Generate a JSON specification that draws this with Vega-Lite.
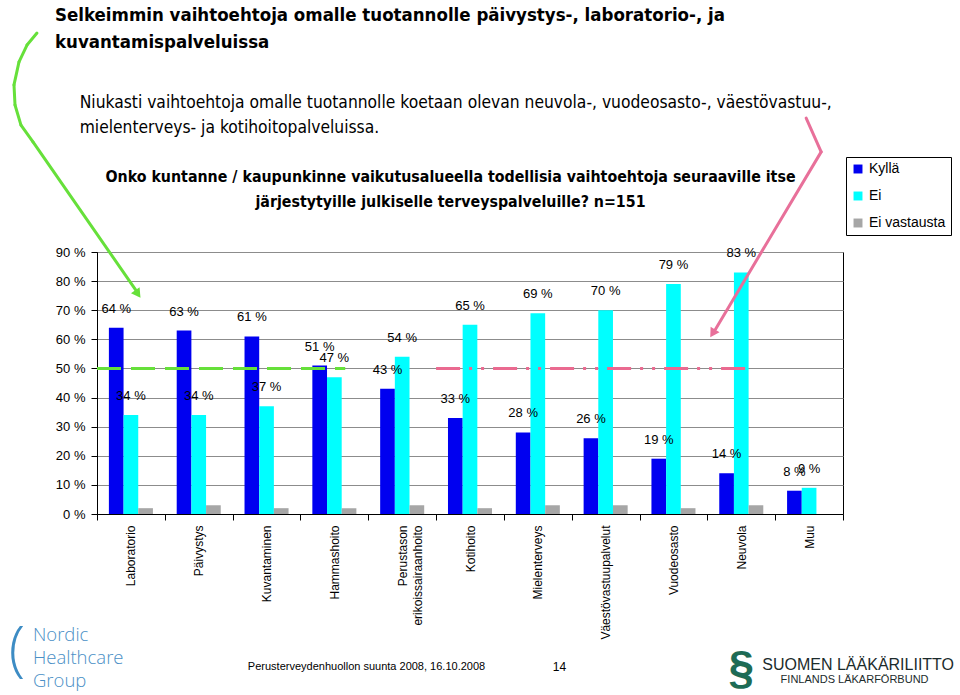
{
  "$schema": "https://vega.github.io/schema/vega-lite/v6.json",
  "width": 746,
  "height": 262,
  "autosize": {"type": "none"},
  "padding": {"left": 97, "top": 252, "right": 117, "bottom": 181},
  "background": "white",
  "config": {
    "view": {"stroke": "#000000", "strokeWidth": 1},
    "font": "Liberation Sans",
    "axis": {"labelFont": "Liberation Sans", "titleFont": "Liberation Sans"},
    "legend": {"labelFont": "Liberation Sans"},
    "rule": {"strokeCap": "round"}
  },
  "title": {
    "text": ["Selkeimmin vaihtoehtoja omalle tuotannolle päivystys-, laboratorio-, ja", "kuvantamispalveluissa"],
    "subtitle": ["\u200b\u00a0\u00a0\u00a0\u00a0\u00a0Niukasti vaihtoehtoja omalle tuotannolle koetaan olevan neuvola-, vuodeosasto-, väestövastuu-,", "\u200b\u00a0\u00a0\u00a0\u00a0\u00a0mielenterveys- ja kotihoitopalveluissa."],
    "anchor": "start",
    "frame": "group",
    "dx": -42,
    "offset": -105.2,
    "font": "DejaVu Sans Condensed, Liberation Sans",
    "fontSize": 18.5,
    "fontWeight": "bold",
    "lineHeight": 27,
    "color": "#000000",
    "subtitleFont": "DejaVu Sans Condensed, Liberation Sans",
    "subtitleFontSize": 17.3,
    "subtitleLineHeight": 25,
    "subtitlePadding": 43,
    "subtitleColor": "#000000"
  },
  "datasets": {
    "bars": [
      {"cat": "Laboratorio", "group": "Kyllä", "value": 64, "label": "64 %"},
      {"cat": "Laboratorio", "group": "Ei", "value": 34, "label": "34 %"},
      {"cat": "Laboratorio", "group": "Ei vastausta", "value": 2, "label": "2 %"},
      {"cat": "Päivystys", "group": "Kyllä", "value": 63, "label": "63 %"},
      {"cat": "Päivystys", "group": "Ei", "value": 34, "label": "34 %"},
      {"cat": "Päivystys", "group": "Ei vastausta", "value": 3, "label": "3 %"},
      {"cat": "Kuvantaminen", "group": "Kyllä", "value": 61, "label": "61 %"},
      {"cat": "Kuvantaminen", "group": "Ei", "value": 37, "label": "37 %"},
      {"cat": "Kuvantaminen", "group": "Ei vastausta", "value": 2, "label": "2 %"},
      {"cat": "Hammashoito", "group": "Kyllä", "value": 51, "label": "51 %"},
      {"cat": "Hammashoito", "group": "Ei", "value": 47, "label": "47 %"},
      {"cat": "Hammashoito", "group": "Ei vastausta", "value": 2, "label": "2 %"},
      {"cat": "Perustason erikoissairaanhoito", "group": "Kyllä", "value": 43, "label": "43 %"},
      {"cat": "Perustason erikoissairaanhoito", "group": "Ei", "value": 54, "label": "54 %"},
      {"cat": "Perustason erikoissairaanhoito", "group": "Ei vastausta", "value": 3, "label": "3 %"},
      {"cat": "Kotihoito", "group": "Kyllä", "value": 33, "label": "33 %"},
      {"cat": "Kotihoito", "group": "Ei", "value": 65, "label": "65 %"},
      {"cat": "Kotihoito", "group": "Ei vastausta", "value": 2, "label": "2 %"},
      {"cat": "Mielenterveys", "group": "Kyllä", "value": 28, "label": "28 %"},
      {"cat": "Mielenterveys", "group": "Ei", "value": 69, "label": "69 %"},
      {"cat": "Mielenterveys", "group": "Ei vastausta", "value": 3, "label": "3 %"},
      {"cat": "Väestövastuupalvelut", "group": "Kyllä", "value": 26, "label": "26 %"},
      {"cat": "Väestövastuupalvelut", "group": "Ei", "value": 70, "label": "70 %"},
      {"cat": "Väestövastuupalvelut", "group": "Ei vastausta", "value": 3, "label": "3 %"},
      {"cat": "Vuodeosasto", "group": "Kyllä", "value": 19, "label": "19 %"},
      {"cat": "Vuodeosasto", "group": "Ei", "value": 79, "label": "79 %"},
      {"cat": "Vuodeosasto", "group": "Ei vastausta", "value": 2, "label": "2 %"},
      {"cat": "Neuvola", "group": "Kyllä", "value": 14, "label": "14 %"},
      {"cat": "Neuvola", "group": "Ei", "value": 83, "label": "83 %"},
      {"cat": "Neuvola", "group": "Ei vastausta", "value": 3, "label": "3 %"},
      {"cat": "Muu", "group": "Kyllä", "value": 8, "label": "8 %"},
      {"cat": "Muu", "group": "Ei", "value": 9, "label": "9 %"}
    ]
  },
  "data": {"name": "bars"},
  "resolve": {"axis": {"x": "independent", "y": "independent"}},
  "layer": [
    {
      "mark": {"type": "bar"},
      "encoding": {
        "x": {
          "field": "cat",
          "type": "nominal",
          "sort": ["Laboratorio", "Päivystys", "Kuvantaminen", "Hammashoito", "Perustason erikoissairaanhoito", "Kotihoito", "Mielenterveys", "Väestövastuupalvelut", "Vuodeosasto", "Neuvola", "Muu"],
          "scale": {"paddingInner": 0, "paddingOuter": 0},
          "axis": {
            "orient": "bottom",
            "labelAngle": -90,
            "labelAlign": "right",
            "labelBaseline": "middle",
            "labelPadding": 5,
            "labelFontSize": 12,
            "labelColor": "#000000",
            "labelLineHeight": 15,
            "labelExpr": "datum.value == 'Perustason erikoissairaanhoito' ? ['Perustason', 'erikoissairaanhoito'] : datum.value",
            "tickBand": "extent",
            "tickSize": 6,
            "tickColor": "#000000",
            "domainColor": "#000000",
            "grid": false,
            "title": "Perusterveydenhuollon suunta 2008, 16.10.2008",
            "titleFontSize": 11,
            "titleFontWeight": "normal",
            "titleColor": "#000000",
            "titleX": 269,
            "titleY": 152,
            "titleAlign": "center",
            "titleBaseline": "middle"
          }
        },
        "xOffset": {
          "field": "group",
          "type": "nominal",
          "sort": ["Kyllä", "Ei", "Ei vastausta"],
          "scale": {"paddingInner": 0, "paddingOuter": 0.81}
        },
        "y": {
          "field": "value",
          "type": "quantitative",
          "scale": {"domain": [0, 90], "nice": false},
          "axis": {
            "values": [0, 10, 20, 30, 40, 50, 60, 70, 80, 90],
            "labelExpr": "datum.value + ' %'",
            "labelFontSize": 13,
            "labelColor": "#000000",
            "labelPadding": 6,
            "tickSize": 6,
            "tickColor": "#000000",
            "domainColor": "#000000",
            "gridColor": "#8c8c8c",
            "gridOpacity": 1,
            "title": "14",
            "titleAngle": 0,
            "titleX": 462,
            "titleY": 414,
            "titleAlign": "center",
            "titleBaseline": "middle",
            "titleFontSize": 12,
            "titleFontWeight": "normal",
            "titleColor": "#000000"
          }
        },
        "color": {
          "field": "group",
          "type": "nominal",
          "scale": {"domain": ["Kyllä", "Ei", "Ei vastausta"], "range": ["#0000f0", "#00ffff", "#a6a6a6"]},
          "legend": {
            "orient": "none",
            "legendX": 749,
            "legendY": -95,
            "title": null,
            "strokeColor": "#000000",
            "fillColor": "#ffffff",
            "padding": 5,
            "rowPadding": 13,
            "symbolType": "square",
            "symbolSize": 80,
            "symbolStrokeWidth": 0,
            "symbolOpacity": 1,
            "labelFontSize": 14,
            "labelColor": "#000000",
            "labelOffset": 4
          }
        }
      }
    },
    {
      "transform": [{"filter": "datum.group != 'Ei vastausta'"}],
      "mark": {"type": "text", "baseline": "alphabetic", "align": "center", "dy": -15, "fontSize": 13, "color": "#000000"},
      "encoding": {
        "x": {
          "field": "cat",
          "type": "nominal",
          "sort": ["Laboratorio", "Päivystys", "Kuvantaminen", "Hammashoito", "Perustason erikoissairaanhoito", "Kotihoito", "Mielenterveys", "Väestövastuupalvelut", "Vuodeosasto", "Neuvola", "Muu"],
          "axis": {
            "orient": "top",
            "labels": false,
            "ticks": false,
            "domain": false,
            "grid": false,
            "title": ["Onko kuntanne / kaupunkinne vaikutusalueella todellisia vaihtoehtoja seuraaville itse", "järjestytyille julkiselle terveyspalveluille? n=151"],
            "titleFont": "DejaVu Sans Condensed, Liberation Sans",
            "titleFontSize": 15.8,
            "titleFontWeight": "bold",
            "titleColor": "#000000",
            "titleLineHeight": 25,
            "titlePadding": 43,
            "titleX": 353,
            "titleAlign": "center"
          }
        },
        "xOffset": {"field": "group", "type": "nominal", "sort": ["Kyllä", "Ei", "Ei vastausta"]},
        "y": {"field": "value", "type": "quantitative", "axis": null},
        "text": {"field": "label", "type": "nominal"}
      }
    },
    {
      "data": {"values": [{}]},
      "mark": {"type": "rule", "color": "#66e03a", "strokeWidth": 3, "strokeDash": [24, 10], "strokeCap": "butt"},
      "encoding": {
        "x": {"datum": "Laboratorio", "type": "nominal", "bandPosition": 0, "axis": null},
        "x2": {"datum": "Hammashoito", "bandPosition": 0.66},
        "y": {"datum": 50, "type": "quantitative", "axis": null}
      }
    },
    {
      "data": {"values": [{}]},
      "mark": {"type": "rule", "color": "#ea6a90", "strokeWidth": 3, "strokeDash": [24, 9, 3, 9, 3, 9], "strokeCap": "butt"},
      "encoding": {
        "x": {"datum": "Kotihoito", "type": "nominal", "bandPosition": 0, "axis": null},
        "x2": {"datum": "Neuvola", "bandPosition": 0.66},
        "y": {"datum": 50, "type": "quantitative", "axis": null}
      }
    },
    {
      "data": {"values": [{}]},
      "mark": {"type": "rule", "color": "#66e03a", "strokeWidth": 3},
      "encoding": {
        "x": {"datum": "Laboratorio", "type": "nominal", "bandPosition": -0.885, "axis": null},
        "x2": {"datum": "Laboratorio", "bandPosition": -1.032},
        "y": {"datum": 165.2, "type": "quantitative", "axis": null},
        "y2": {"datum": 161.1}
      }
    },
    {
      "data": {"values": [{}]},
      "mark": {"type": "rule", "color": "#66e03a", "strokeWidth": 3},
      "encoding": {
        "x": {"datum": "Laboratorio", "type": "nominal", "bandPosition": -1.032, "axis": null},
        "x2": {"datum": "Laboratorio", "bandPosition": -1.150},
        "y": {"datum": 161.1, "type": "quantitative", "axis": null},
        "y2": {"datum": 155.3}
      }
    },
    {
      "data": {"values": [{}]},
      "mark": {"type": "rule", "color": "#66e03a", "strokeWidth": 3},
      "encoding": {
        "x": {"datum": "Laboratorio", "type": "nominal", "bandPosition": -1.150, "axis": null},
        "x2": {"datum": "Laboratorio", "bandPosition": -1.224},
        "y": {"datum": 155.3, "type": "quantitative", "axis": null},
        "y2": {"datum": 147.4}
      }
    },
    {
      "data": {"values": [{}]},
      "mark": {"type": "rule", "color": "#66e03a", "strokeWidth": 3},
      "encoding": {
        "x": {"datum": "Laboratorio", "type": "nominal", "bandPosition": -1.224, "axis": null},
        "x2": {"datum": "Laboratorio", "bandPosition": -1.209},
        "y": {"datum": 147.4, "type": "quantitative", "axis": null},
        "y2": {"datum": 140.5}
      }
    },
    {
      "data": {"values": [{}]},
      "mark": {"type": "rule", "color": "#66e03a", "strokeWidth": 3},
      "encoding": {
        "x": {"datum": "Laboratorio", "type": "nominal", "bandPosition": -1.209, "axis": null},
        "x2": {"datum": "Laboratorio", "bandPosition": -1.121},
        "y": {"datum": 140.5, "type": "quantitative", "axis": null},
        "y2": {"datum": 133.6}
      }
    },
    {
      "data": {"values": [{}]},
      "mark": {"type": "rule", "color": "#66e03a", "strokeWidth": 3},
      "encoding": {
        "x": {"datum": "Laboratorio", "type": "nominal", "bandPosition": -1.121, "axis": null},
        "x2": {"datum": "Laboratorio", "bandPosition": -0.944},
        "y": {"datum": 133.6, "type": "quantitative", "axis": null},
        "y2": {"datum": 127.8}
      }
    },
    {
      "data": {"values": [{}]},
      "mark": {"type": "rule", "color": "#66e03a", "strokeWidth": 3},
      "encoding": {
        "x": {"datum": "Laboratorio", "type": "nominal", "bandPosition": -0.944, "axis": null},
        "x2": {"datum": "Laboratorio", "bandPosition": 0.57},
        "y": {"datum": 127.8, "type": "quantitative", "axis": null},
        "y2": {"datum": 77}
      }
    },
    {
      "data": {"values": [{}]},
      "mark": {"type": "point", "shape": "triangle", "filled": true, "size": 110, "angle": 145, "color": "#66e03a", "opacity": 1},
      "encoding": {
        "x": {"datum": "Laboratorio", "type": "nominal", "bandPosition": 0.59, "axis": null},
        "y": {"datum": 76, "type": "quantitative", "axis": null}
      }
    },
    {
      "data": {"values": [{}]},
      "mark": {"type": "rule", "color": "#e8709a", "strokeWidth": 3},
      "encoding": {
        "x": {"datum": "Muu", "type": "nominal", "bandPosition": 0.457, "axis": null},
        "x2": {"datum": "Muu", "bandPosition": 0.678},
        "y": {"datum": 136.0, "type": "quantitative", "axis": null},
        "y2": {"datum": 124.4}
      }
    },
    {
      "data": {"values": [{}]},
      "mark": {"type": "rule", "color": "#e8709a", "strokeWidth": 3},
      "encoding": {
        "x": {"datum": "Muu", "type": "nominal", "bandPosition": 0.678, "axis": null},
        "x2": {"datum": "Neuvola", "bandPosition": 0.12},
        "y": {"datum": 124.4, "type": "quantitative", "axis": null},
        "y2": {"datum": 63.5}
      }
    },
    {
      "data": {"values": [{}]},
      "mark": {"type": "point", "shape": "triangle", "filled": true, "size": 110, "angle": 212, "color": "#e8709a", "opacity": 1},
      "encoding": {
        "x": {"datum": "Neuvola", "type": "nominal", "bandPosition": 0.09, "axis": null},
        "y": {"datum": 62.5, "type": "quantitative", "axis": null}
      }
    },
    {
      "data": {"values": [{}]},
      "mark": {"type": "text", "text": ["Nordic", "Healthcare", "Group"], "align": "left", "baseline": "alphabetic", "font": "Open Sans", "fontWeight": 300, "fontSize": 18.5, "lineHeight": 23, "color": "#4a8fc6"},
      "encoding": {
        "x": {"datum": "Laboratorio", "type": "nominal", "bandPosition": -0.944, "axis": null},
        "y": {"datum": -43.6, "type": "quantitative", "axis": null}
      }
    },
    {
      "data": {"values": [{}]},
      "mark": {"type": "text", "text": "(", "align": "center", "baseline": "middle", "font": "Open Sans", "fontWeight": 300, "fontSize": 60, "color": "#3d8cc4"},
      "encoding": {
        "x": {"datum": "Laboratorio", "type": "nominal", "bandPosition": -1.18, "axis": null},
        "y": {"datum": -47.4, "type": "quantitative", "axis": null}
      }
    },
    {
      "data": {"values": [{}]},
      "mark": {"type": "text", "text": "§", "align": "center", "baseline": "middle", "fontSize": 46, "fontWeight": "bold", "color": "#1e6b55"},
      "encoding": {
        "x": {"datum": "Neuvola", "type": "nominal", "bandPosition": 0.5, "axis": null},
        "y": {"datum": -53.2, "type": "quantitative", "axis": null}
      }
    },
    {
      "data": {"values": [{}]},
      "mark": {"type": "text", "text": "SUOMEN LÄÄKÄRILIITTO", "align": "left", "baseline": "alphabetic", "fontSize": 16, "color": "#1c2b2b"},
      "encoding": {
        "x": {"datum": "Neuvola", "type": "nominal", "bandPosition": 0.81, "axis": null},
        "y": {"datum": -53.6, "type": "quantitative", "axis": null}
      }
    },
    {
      "data": {"values": [{}]},
      "mark": {"type": "text", "text": "FINLANDS LÄKARFÖRBUND", "align": "left", "baseline": "alphabetic", "fontSize": 11, "color": "#1c2b2b"},
      "encoding": {
        "x": {"datum": "Neuvola", "type": "nominal", "bandPosition": 1.08, "axis": null},
        "y": {"datum": -58.1, "type": "quantitative", "axis": null}
      }
    }
  ]
}
